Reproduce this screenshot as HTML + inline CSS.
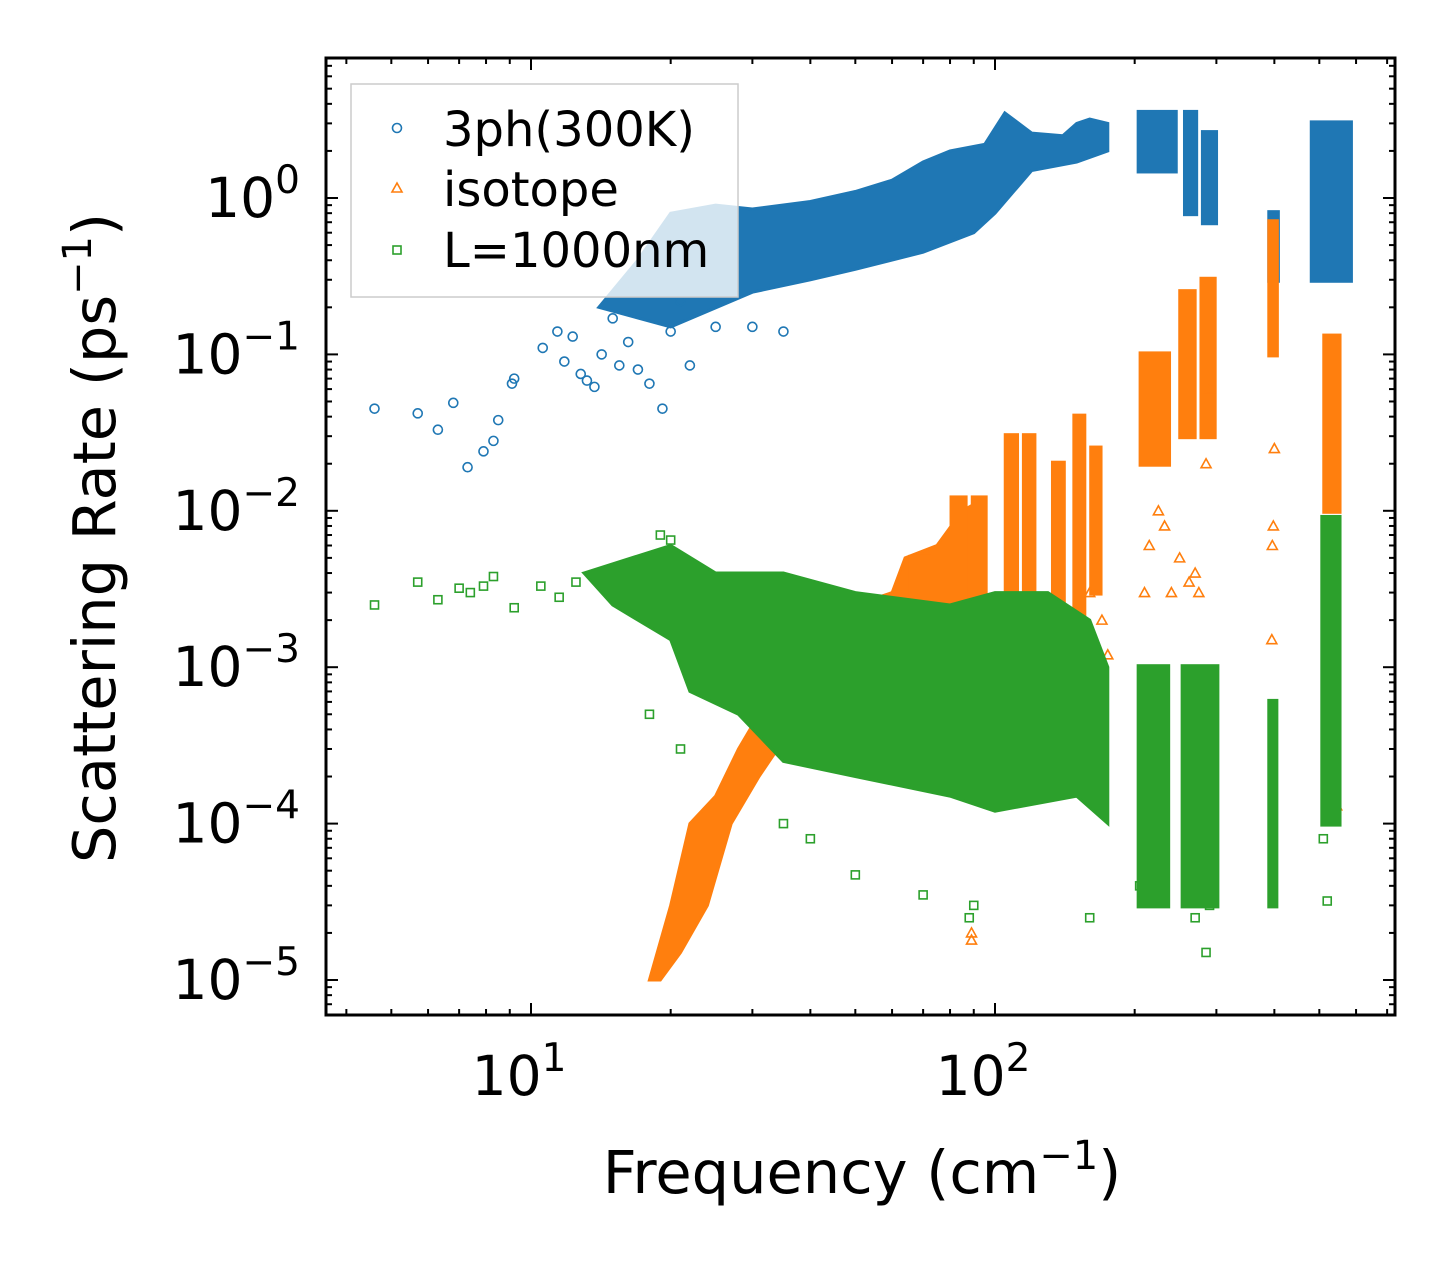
<!DOCTYPE html>
<html><head><meta charset="utf-8">
<style>
html,body{margin:0;padding:0;background:#fff;}
svg{display:block;font-family:"DejaVu Sans","Liberation Sans",sans-serif;}
</style></head>
<body>
<svg id="chart" width="1455" height="1265" viewBox="0 0 1455 1265" xmlns="http://www.w3.org/2000/svg">
<rect width="1455" height="1265" fill="#fff"/>
<g id="marks"></g>
<g id="axes"></g>
<g id="legend">
 <rect x="351" y="84" width="387" height="213" fill="#fff" fill-opacity="0.8" stroke="#ccc" stroke-width="1.5"/>
 <g>
  <circle cx="397" cy="128" r="4.5" fill="none" stroke="#1f77b4" stroke-width="1.6"/>
  <text x="443" y="146" font-size="48">3ph(300K)</text>
 </g>
 <g>
  <polygon points="397,183 402,192 392,192" fill="none" stroke="#ff7f0e" stroke-width="1.6"/>
  <text x="443" y="206" font-size="48">isotope</text>
 </g>
 <g>
  <rect x="393" y="246" width="8" height="8" fill="none" stroke="#2ca02c" stroke-width="1.6"/>
  <text x="443" y="267" font-size="48">L=1000nm</text>
 </g>
</g>
<text x="862" y="1193" font-size="59" text-anchor="middle">Frequency (cm<tspan dy="-24" font-size="40">−1</tspan><tspan dy="24">)</tspan></text>
<text transform="translate(115,538) rotate(-90)" font-size="59" text-anchor="middle">Scattering Rate (ps<tspan dy="-24" font-size="40">−1</tspan><tspan dy="24">)</tspan></text>
</svg>
<script>
// ---- data ----
const xTickValues=[10,100];
const xTickLabels=["1","2"];
const yTickValues=[1,0.1,0.01,0.001,0.0001,0.00001];
const yTickLabels=["0","−1","−2","−3","−4","−5"];
const blueX=[4.6,5.7,6.3,6.8,7.3,7.9,8.3,8.5,9.1,9.2,10.6,11.4,11.8,12.3,12.8,13.2,13.7,14.2,15,15.5,16.2,17,18,19.2,20,22,25,30,35,16,18.5,21];
const blueY=[0.045,0.042,0.033,0.049,0.019,0.024,0.028,0.038,0.065,0.07,0.11,0.14,0.09,0.13,0.075,0.068,0.062,0.1,0.17,0.085,0.12,0.08,0.065,0.045,0.14,0.085,0.15,0.15,0.14,0.25,0.3,0.22];
const blueCloudX=[14,17,20,25,30,40,50,60,70,80,95,105,120,140,150,160,175,175,150,120,100,90,70,50,40,30,20,14];
const blueCloudY=[0.2,0.4,0.8,0.9,0.85,0.95,1.1,1.3,1.7,2.0,2.2,3.5,2.6,2.5,3.0,3.2,3.0,2.0,1.7,1.5,0.8,0.6,0.45,0.35,0.3,0.25,0.15,0.2];
const blueColX0=[205,258,282,392,484];
const blueColX1=[244,270,298,405,582];
const blueColY0=[1.5,0.8,0.7,0.3,0.3];
const blueColY1=[3.5,3.5,2.6,0.8,3.0];
const orangeBandX=[18,20,22,25,28,31,34,34,31,27,24,21,19,18];
const orangeBandY=[1e-5,3e-5,1e-4,1.5e-4,3e-4,5e-4,8e-4,3e-4,2e-4,1e-4,3e-5,1.5e-5,1e-5,1e-5];
const orangeMidX=[32,40,50,60,64,75,85,95,95,60,40,32];
const orangeMidY=[1e-3,1.5e-3,2.5e-3,3e-3,5e-3,6e-3,1e-2,1.2e-2,5e-4,5e-4,5e-4,5e-4];
const orangeColX0=[66,81,90,106,116,134,149,162,207,252,280,392,515];
const orangeColX1=[72,86,95,111,121,140,155,168,236,268,296,403,550];
const orangeColY0=[1e-3,1e-3,1e-3,1e-3,1e-3,1e-3,2e-3,3e-3,2e-2,3e-2,3e-2,0.1,1e-2];
const orangeColY1=[5e-3,1.2e-2,1.2e-2,3e-2,3e-2,2e-2,4e-2,2.5e-2,0.1,0.25,0.3,0.7,0.13];
const orangeX=[89,89,210,215,225,232,240,250,262,270,275,285,290,395,396,398,400,520,540,545,160,170,175];
const orangeY=[1.8e-5,2e-5,3e-3,6e-3,1e-2,8e-3,3e-3,5e-3,3.5e-3,4e-3,3e-3,2e-2,6e-2,1.5e-3,6e-3,8e-3,2.5e-2,2e-4,1.5e-4,1.3e-4,3e-3,2e-3,1.2e-3];
const greenCloudX=[13,20,25,35,50,80,100,130,160,175,175,150,100,80,50,35,28,22,20,15,13];
const greenCloudY=[4e-3,6e-3,4e-3,4e-3,3e-3,2.5e-3,3e-3,3e-3,2e-3,1e-3,1e-4,1.5e-4,1.2e-4,1.5e-4,2e-4,2.5e-4,5e-4,7e-4,1.5e-3,2.5e-3,4e-3];
const greenColX0=[205,255,392,510];
const greenColX1=[235,300,402,550];
const greenColY0=[3e-5,3e-5,3e-5,1e-4];
const greenColY1=[1e-3,1e-3,6e-4,9e-3];
const greenX=[4.6,5.7,6.3,7,7.4,7.9,8.3,9.2,10.5,11.5,12.5,19,20,18,21,35,40,50,70,90,88,160,285,290,205,230,270,510,520];
const greenY=[2.5e-3,3.5e-3,2.7e-3,3.2e-3,3e-3,3.3e-3,3.8e-3,2.4e-3,3.3e-3,2.8e-3,3.5e-3,7e-3,6.5e-3,5e-4,3e-4,1e-4,8e-5,4.7e-5,3.5e-5,3e-5,2.5e-5,2.5e-5,1.5e-5,3e-5,4e-5,5e-5,2.5e-5,8e-5,3.2e-5];

// ---- axes ----
const X0=326,X1=1395,Y0=58,Y1=1015;
const xs=v=>995+464*(Math.log10(v)-2);
const ys=v=>198-156.4*Math.log10(v);
const NS="http://www.w3.org/2000/svg";
const marks=document.getElementById('marks');
const axes=document.getElementById('axes');
function mk(tag,attrs,parent){const e=document.createElementNS(NS,tag);for(const k in attrs)e.setAttribute(k,attrs[k]);parent.appendChild(e);return e;}

function poly(xa,ya,color,name){
  const pts=xa.map((x,i)=>xs(x).toFixed(1)+','+ys(ya[i]).toFixed(1)).join(' ');
  const p=mk('polygon',{points:pts,fill:color,stroke:color,'stroke-width':3},marks);
  
  
}
function cols(x0,x1,y0,y1,color,name){
  x0.forEach((v,i)=>{
    const r=mk('rect',{x:xs(v)-3,y:ys(y1[i])-3,width:xs(x1[i])-xs(v)+6,height:ys(y0[i])-ys(y1[i])+6,fill:color},marks);
    
    
  });
}
function circles(xa,ya){xa.forEach((x,i)=>{
  const c=mk('circle',{cx:xs(x),cy:ys(ya[i]),r:4.5,fill:'none',stroke:'#1f77b4','stroke-width':1.6},marks);
  
  
});}
function tris(xa,ya){xa.forEach((x,i)=>{
  const cx=xs(x),cy=ys(ya[i]);
  const t=mk('polygon',{points:`${cx},${cy-5} ${cx+5},${cy+4} ${cx-5},${cy+4}`,fill:'none',stroke:'#ff7f0e','stroke-width':1.6},marks);
  
  
});}
function squares(xa,ya){xa.forEach((x,i)=>{
  const s=mk('rect',{x:xs(x)-4,y:ys(ya[i])-4,width:8,height:8,fill:'none',stroke:'#2ca02c','stroke-width':1.6},marks);
  
  
});}

poly(blueCloudX,blueCloudY,'#1f77b4','3ph-dense-cloud');
cols(blueColX0,blueColX1,blueColY0,blueColY1,'#1f77b4','3ph-band');
circles(blueX,blueY);
poly(orangeBandX,orangeBandY,'#ff7f0e','isotope-rising-band');
poly(orangeMidX,orangeMidY,'#ff7f0e','isotope-mid-cloud');
cols(orangeColX0,orangeColX1,orangeColY0,orangeColY1,'#ff7f0e','isotope-band');
tris(orangeX,orangeY);
poly(greenCloudX,greenCloudY,'#2ca02c','boundary-dense-cloud');
cols(greenColX0,greenColX1,greenColY0,greenColY1,'#2ca02c','boundary-band');
squares(greenX,greenY);

const fr=mk('rect',{x:X0,y:Y0,width:X1-X0,height:Y1-Y0,fill:'none',stroke:'#000','stroke-width':3},axes);


for(let d=0;d<3;d++){for(let m=1;m<10;m++){
  const v=m*Math.pow(10,d); const x=xs(v); if(x<X0||x>X1)continue;
  const L=m===1?12:6;
  mk('line',{x1:x,y1:Y1,x2:x,y2:Y1-L,stroke:'#000','stroke-width':2},axes);
  mk('line',{x1:x,y1:Y0,x2:x,y2:Y0+L,stroke:'#000','stroke-width':2},axes);
}}
xTickValues.forEach((v,i)=>{
  const t=mk('text',{x:xs(v)-12,y:1095,'font-size':55,'text-anchor':'middle'},axes);
  
  
  t.innerHTML='10<tspan dy="-24" font-size="39">'+xTickLabels[i]+'</tspan>';
});
for(let d=-6;d<1;d++){for(let m=1;m<10;m++){
  const v=m*Math.pow(10,d); const y=ys(v); if(y<Y0||y>Y1)continue;
  const L=m===1?12:6;
  mk('line',{x1:X0,y1:y,x2:X0+L,y2:y,stroke:'#000','stroke-width':2},axes);
  mk('line',{x1:X1,y1:y,x2:X1-L,y2:y,stroke:'#000','stroke-width':2},axes);
}}
yTickValues.forEach((v,i)=>{
  const t=mk('text',{x:300,y:ys(v)+19,'font-size':55,'text-anchor':'end'},axes);
  
  
  t.innerHTML='10<tspan dy="-24" font-size="39">'+yTickLabels[i]+'</tspan>';
});
</script>
</body></html>
